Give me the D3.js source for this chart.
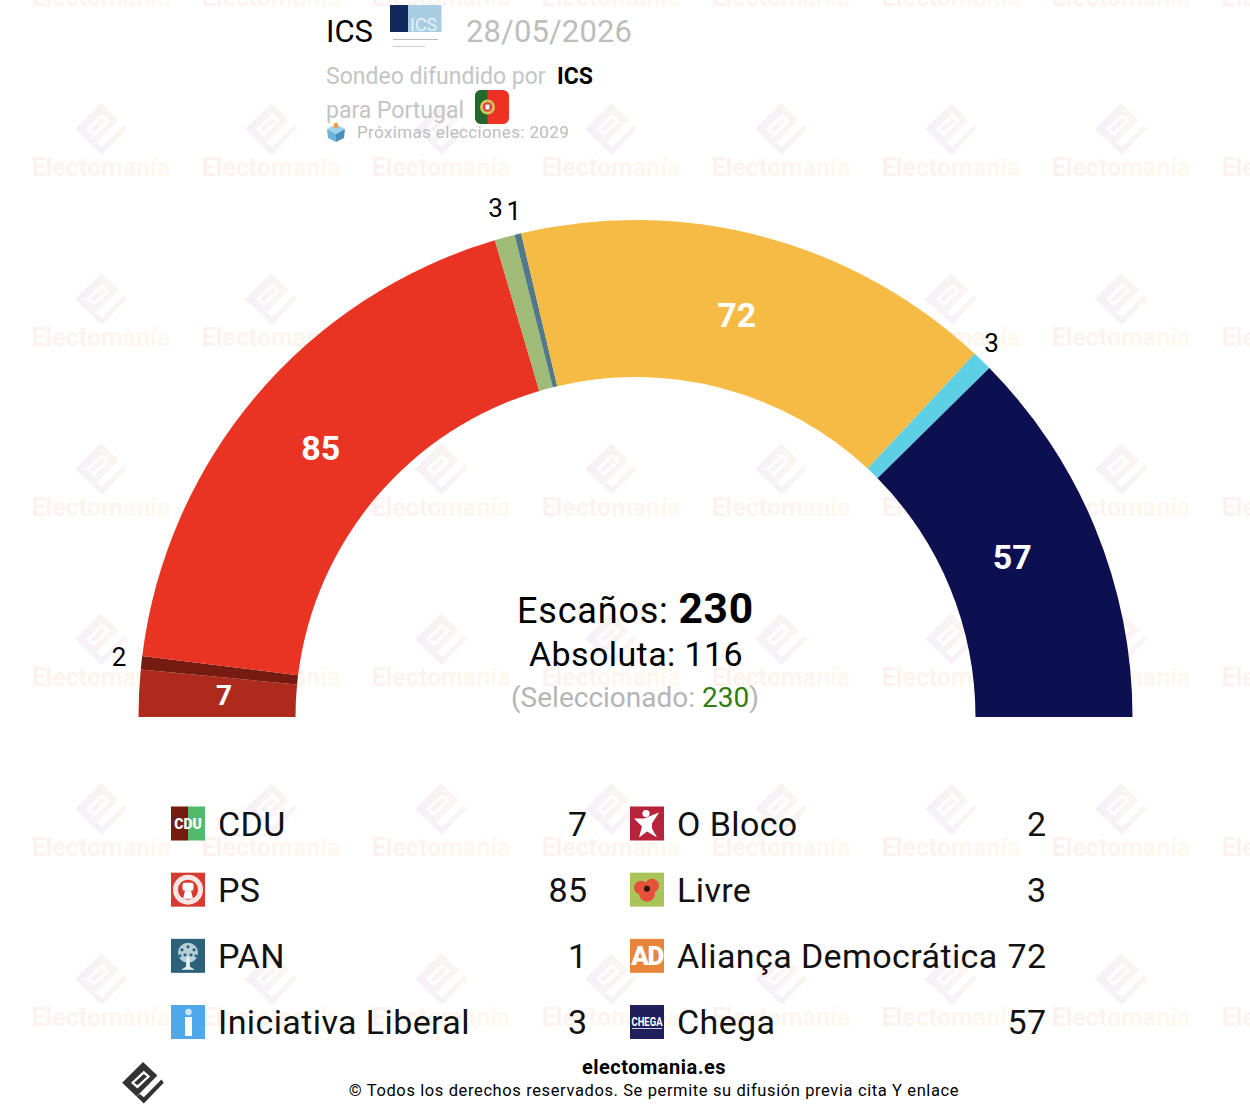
<!DOCTYPE html>
<html>
<head>
<meta charset="utf-8">
<script src="https://cdn.jsdelivr.net/npm/d3@7"></script>
<style>
  html, body { margin: 0; padding: 0; background: #fff; }
  text { font-family: Roboto, sans-serif; }
</style>
</head>
<body>
<div id="chart"></div>
<script>
// seats in hemicycle order, left to right
const parties = ['CDU', 'O Bloco', 'PS', 'Livre', 'PAN', 'Aliança Democrática', 'Iniciativa Liberal', 'Chega'];
const seats = [7, 2, 85, 3, 1, 72, 3, 57];
const colors = ['#ae2a1c', '#751b12', '#ea3423', '#a0bb78', '#52788a', '#f5bb44', '#5ed0e6', '#0c0f50'];

const legendLeftNames = ['CDU', 'PS', 'PAN', 'Iniciativa Liberal'];
const legendLeftSeats = [7, 85, 1, 3];
const legendRightNames = ['O Bloco', 'Livre', 'Aliança Democrática', 'Chega'];
const legendRightSeats = [2, 3, 72, 57];

const watermarkCols = [101, 271, 441, 611, 781, 951, 1121, 1291];
const watermarkRows = [-2, 168, 338, 508, 678, 848, 1018];

let w = 1250, h = 1120;
let cx = 635.5, cy = 717, outerR = 497, innerR = 340;
let totalSeats = d3.sum(seats);

let svg = d3.select('#chart').append('svg')
    .attr('width', w).attr('height', h)
    .attr('viewBox', `0 0 ${w} ${h}`)
    .style('display', 'block');

let defs = svg.append('defs');
let wmGrad = defs.append('linearGradient').attr('id', 'wm-grad');
wmGrad.append('stop').attr('offset', '0%').attr('stop-color', '#fcf1ef');
wmGrad.append('stop').attr('offset', '100%').attr('stop-color', '#fef8ee');
let wmIconGrad = defs.append('linearGradient').attr('id', 'wm-icon-grad');
wmIconGrad.append('stop').attr('offset', '0%').attr('stop-color', '#f4f0f9');
wmIconGrad.append('stop').attr('offset', '100%').attr('stop-color', '#fcf5f0');

// the electomania mark, origin at its top corner
function drawMark(g, fill) {
    g.append('path').attr('fill', fill)
        .attr('d', 'M0,0 L18,17 L-8,43 L-26,26 Z');
    g.append('path').attr('fill', '#fff')
        .attr('d', 'M1,11 L9,18 L-7,33 L-15,26 Z');
    g.append('path').attr('fill', fill)
        .attr('d', 'M1,15 L5,18 L-7,29 L-11,26 Z');
    g.append('path').attr('fill', fill)
        .attr('d', 'M23,22 L26,26 L1,52 L-8,43 L-4,40 L1,44 Z');
}

// background watermark
let wm = svg.append('g');
watermarkRows.forEach((y) => {
    watermarkCols.forEach((x) => {
        let tile = wm.append('g').attr('transform', `translate(${x},${y})`);
        drawMark(tile.append('g').attr('transform', 'translate(0,-65)'), 'url(#wm-icon-grad)');
        tile.append('text')
            .attr('text-anchor', 'middle').attr('y', 8)
            .attr('font-size', 25).attr('font-weight', 700)
            .attr('fill', 'url(#wm-grad)')
            .text('Electomanía');
    });
});

// hemicycle
let pie = d3.pie().sort(null).startAngle(-Math.PI / 2).endAngle(Math.PI / 2).padAngle(0);
let arcs = pie(seats);
let arc = d3.arc().innerRadius(innerR).outerRadius(outerR);
let plot = svg.append('g').attr('transform', `translate(${cx},${cy})`);

plot.selectAll('path.seat').data(arcs).enter().append('path')
    .attr('class', 'seat')
    .attr('d', arc)
    .attr('fill', (d, i) => colors[i]);

function polar(angle, r) {
    return [Math.sin(angle) * r, -Math.cos(angle) * r];
}

// small parties get their number outside the ring, in black
let labelNudge = {
    'CDU': [0, -2], 'O Bloco': [0.5, -3], 'PS': [-0.5, -2.5], 'Livre': [-3, -7],
    'PAN': [1.5, -1], 'Aliança Democrática': [-4.5, -4], 'Iniciativa Liberal': [-6.5, -1], 'Chega': [-4.5, -4]
};
plot.selectAll('text.seat-label').data(arcs).enter().append('text')
    .attr('class', 'seat-label')
    .attr('text-anchor', 'middle')
    .attr('dominant-baseline', 'central')
    .each(function(d, i) {
        let mid = (d.startAngle + d.endAngle) / 2;
        let big = d.value >= 5;
        let nudge = labelNudge[parties[i]];
        let p = polar(mid, big ? 412 : 520);
        d3.select(this)
            .attr('x', p[0] + nudge[0]).attr('y', p[1] + nudge[1])
            .attr('font-size', big ? (d.value < 10 ? 28 : 34) : 26)
            .attr('font-weight', big ? 700 : 400)
            .attr('fill', big ? '#fff' : '#000')
            .text(d.value);
    });

// centre text
let centre = svg.append('g').attr('text-anchor', 'middle');
let line1 = centre.append('text').attr('x', 635.5).attr('y', 623).attr('font-size', 36).attr('letter-spacing', 0.8);
line1.append('tspan').text('Escaños: ');
line1.append('tspan').attr('font-weight', 700).attr('font-size', 42.5).text(totalSeats);
centre.append('text').attr('x', 636).attr('y', 666).attr('font-size', 34).attr('letter-spacing', 0.4)
    .text('Absoluta: 116');
let line3 = centre.append('text').attr('x', 635).attr('y', 707).attr('font-size', 28)
    .attr('fill', '#b5b5b5');
line3.append('tspan').text('(Seleccionado: ');
line3.append('tspan').attr('fill', '#2e7d10').text(totalSeats);
line3.append('tspan').text(')');

// header
let head = svg.append('g');
head.append('text').attr('x', 326).attr('y', 42).attr('font-size', 31).text('ICS');
head.append('text').attr('x', 466).attr('y', 42).attr('font-size', 31).attr('letter-spacing', 0.1)
    .attr('fill', '#bdbdbd').text('28/05/2026');
head.append('text').attr('x', 326).attr('y', 84).attr('font-size', 23)
    .attr('fill', '#c4c4c4').text('Sondeo difundido por');
head.append('text').attr('x', 557).attr('y', 84).attr('font-size', 23).attr('font-weight', 700)
    .text('ICS');
head.append('text').attr('x', 326).attr('y', 118).attr('font-size', 23)
    .attr('fill', '#c4c4c4').text('para Portugal');
head.append('text').attr('x', 357).attr('y', 138).attr('font-size', 17).attr('letter-spacing', 0.36)
    .attr('fill', '#bdbdbd').text('Próximas elecciones: 2029');

// ICS logo
let logo = head.append('g').attr('transform', 'translate(390,5)');
logo.append('rect').attr('x', 18).attr('width', 33.5).attr('height', 27).attr('fill', '#a9cde3');
logo.append('rect').attr('width', 18).attr('height', 27).attr('fill', '#10295c');
logo.append('text').attr('x', 20).attr('y', 26).attr('font-size', 18).attr('fill', '#e6f1f7').text('ICS');
logo.append('rect').attr('x', 3).attr('y', 34).attr('width', 45).attr('height', 1).attr('fill', '#bbb');
logo.append('rect').attr('x', 3).attr('y', 41).attr('width', 32).attr('height', 1).attr('fill', '#ccc');

// flag
let flag = head.append('g').attr('transform', 'translate(475,90)');
defs.append('clipPath').attr('id', 'flag-clip').append('rect').attr('width', 34).attr('height', 34).attr('rx', 6);
let flagIn = flag.append('g').attr('clip-path', 'url(#flag-clip)');
flagIn.append('rect').attr('width', 34).attr('height', 34).attr('fill', '#ee3124');
flagIn.append('rect').attr('width', 12.5).attr('height', 34).attr('fill', '#1f6a2c');
flag.append('circle').attr('cx', 12.5).attr('cy', 17).attr('r', 7.5).attr('fill', '#d9c65a');
flag.append('circle').attr('cx', 12.5).attr('cy', 17).attr('r', 4.8).attr('fill', '#d6443a');
flag.append('rect').attr('x', 10.5).attr('y', 14.5).attr('width', 4).attr('height', 5).attr('fill', '#eef');

// ballot box
let ballot = head.append('g').attr('transform', 'translate(327,123)');
ballot.append('path').attr('d', 'M0,6 L9,1 L18,6 L9,11 Z').attr('fill', '#9fd3ea');
ballot.append('path').attr('d', 'M0,6 L9,11 L9,19 L1,15 Z').attr('fill', '#6cb2d8');
ballot.append('path').attr('d', 'M18,6 L9,11 L9,19 L17,15 Z').attr('fill', '#4a8fbd');
ballot.append('rect').attr('x', 7).attr('y', 0).attr('width', 4).attr('height', 5).attr('fill', '#eda24a');

// legend icons, 34px squares
const iconDrawers = {
    'CDU': (g) => {
        g.append('rect').attr('width', 17).attr('height', 34).attr('fill', '#751b12');
        g.append('rect').attr('x', 17).attr('width', 17).attr('height', 34).attr('fill', '#55b96b');
        g.append('text').attr('x', 17).attr('y', 22).attr('text-anchor', 'middle')
            .attr('font-size', 14).attr('font-weight', 900).attr('fill', '#fff').text('CDU');
    },
    'PS': (g) => {
        g.append('rect').attr('width', 34).attr('height', 34).attr('fill', '#d63a30');
        g.append('circle').attr('cx', 17).attr('cy', 17).attr('r', 15).attr('fill', '#f7e6e4');
        g.append('circle').attr('cx', 17).attr('cy', 17).attr('r', 10).attr('fill', '#d63a30');
        g.append('rect').attr('x', 11.5).attr('y', 10).attr('width', 11).attr('height', 8).attr('rx', 2).attr('fill', '#fff');
        g.append('path').attr('d', 'M14,18 L20,18 L22,26 L12,26 Z').attr('fill', '#fff');
    },
    'PAN': (g) => {
        g.append('rect').attr('width', 34).attr('height', 34).attr('fill', '#2b6179');
        g.append('circle').attr('cx', 17).attr('cy', 14).attr('r', 10).attr('fill', '#b7cfd8');
        [[11, 11], [17, 8], [23, 11], [14, 16], [20, 16], [9, 17], [25, 17]].forEach((c) => {
            g.append('circle').attr('cx', c[0]).attr('cy', c[1]).attr('r', 1.6).attr('fill', '#2b6179');
        });
        g.append('path').attr('d', 'M15.5,18 L18.5,18 L19,28 L24,31 L10,31 L15,28 Z').attr('fill', '#e6eff2');
    },
    'Iniciativa Liberal': (g) => {
        g.append('rect').attr('width', 34).attr('height', 34).attr('fill', '#4fa8ea');
        g.append('circle').attr('cx', 17.5).attr('cy', 7).attr('r', 3.2).attr('fill', '#cfe7fb');
        g.append('rect').attr('x', 14).attr('y', 12).attr('width', 7).attr('height', 19).attr('fill', '#fff');
    },
    'O Bloco': (g) => {
        g.append('rect').attr('width', 34).attr('height', 34).attr('fill', '#b8233c');
        g.append('circle').attr('cx', 16).attr('cy', 7).attr('r', 3.6).attr('fill', '#fff');
        g.append('path').attr('d', 'M4,12 L14,12 L29,6 L22,17 L22,22 L27,31 L17,25 L9,31 L12,20 Z').attr('fill', '#fff');
    },
    'Livre': (g) => {
        g.append('rect').attr('width', 34).attr('height', 34).attr('fill', '#a9c55a');
        g.append('circle').attr('cx', 11).attr('cy', 15).attr('r', 7).attr('fill', '#e5513a');
        g.append('circle').attr('cx', 22).attr('cy', 13).attr('r', 7).attr('fill', '#e5513a');
        g.append('circle').attr('cx', 17).attr('cy', 21).attr('r', 8).attr('fill', '#e5513a');
        g.append('circle').attr('cx', 17).attr('cy', 16).attr('r', 3).attr('fill', '#2a1512');
    },
    'Aliança Democrática': (g) => {
        g.append('rect').attr('width', 34).attr('height', 34).attr('fill', '#e8853a');
        g.append('text').attr('x', 17).attr('y', 26).attr('text-anchor', 'middle')
            .attr('font-size', 26).attr('font-weight', 900).attr('letter-spacing', -1.5).attr('fill', '#fff').text('AD');
    },
    'Chega': (g) => {
        g.append('rect').attr('width', 34).attr('height', 34).attr('fill', '#201f5c');
        g.append('text').attr('x', 17).attr('y', 21).attr('text-anchor', 'middle')
            .attr('font-size', 12).attr('font-weight', 700).attr('textLength', 31)
            .attr('lengthAdjust', 'spacingAndGlyphs').attr('fill', '#fff').text('CHEGA');
        g.append('rect').attr('x', 2).attr('y', 23).attr('width', 30).attr('height', 1).attr('fill', '#cfd0e6');
    }
};

// legend
let rowY = d3.scalePoint().domain(d3.range(4)).range([823.5, 1022]);

function drawLegendColumn(names, values, iconX, textX, valueX) {
    let rows = svg.append('g').selectAll('g').data(names).enter().append('g')
        .attr('transform', (d, i) => `translate(0,${rowY(i)})`);
    rows.each(function(d) {
        let icon = d3.select(this).append('g').attr('transform', `translate(${iconX},-17)`);
        iconDrawers[d](icon);
    });
    rows.append('text').attr('x', textX).attr('y', 12)
        .attr('font-size', 34).attr('letter-spacing', 0.4).attr('fill', '#111')
        .text((d) => d);
    rows.append('text').attr('x', valueX).attr('y', 12)
        .attr('text-anchor', 'end')
        .attr('font-size', 34).attr('letter-spacing', 0.4).attr('fill', '#111')
        .text((d, i) => values[i]);
}
drawLegendColumn(legendLeftNames, legendLeftSeats, 171, 218, 587.5);
drawLegendColumn(legendRightNames, legendRightSeats, 630, 677, 1046.5);

// footer
svg.append('text').attr('x', 654).attr('y', 1074).attr('text-anchor', 'middle')
    .attr('font-size', 20).attr('font-weight', 700).attr('letter-spacing', 0.5).text('electomania.es');
svg.append('text').attr('x', 654).attr('y', 1096).attr('text-anchor', 'middle')
    .attr('font-size', 16.5).attr('letter-spacing', 0.61).text('© Todos los derechos reservados. Se permite su difusión previa cita Y enlace');
drawMark(svg.append('g').attr('transform', 'translate(143,1062) scale(0.8)'), '#333');
</script>
</body>
</html>
